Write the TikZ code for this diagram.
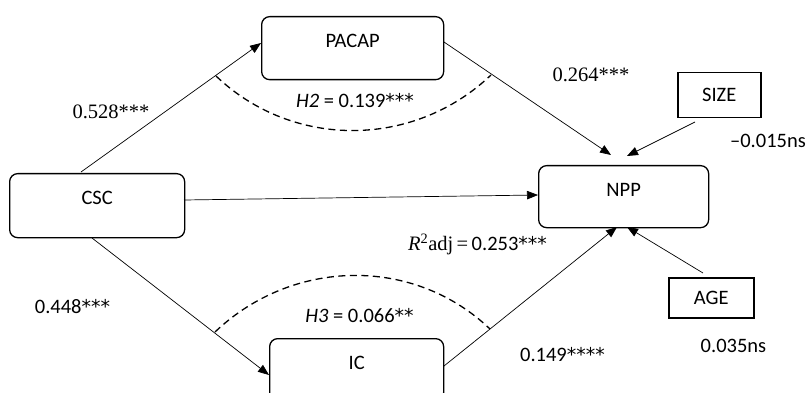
\documentclass[tikz,border=0pt]{standalone}
\usepackage{fontspec}
\setmainfont{Carlito}
\newfontfamily\serifface{Liberation Serif}
\newfontfamily\starface{DejaVu Sans}
\newcommand\stars[1]{{\starface\fontsize{19}{22}\selectfont #1}}
\usetikzlibrary{arrows.meta}
\begin{document}
\begin{tikzpicture}[x=1pt,y=-1pt,
  font=\fontsize{20.5}{24}\selectfont,
  rbox/.style={draw, rounded corners=8pt, line width=1.3pt, inner sep=0pt, anchor=north west, text height=31pt},
  sbox/.style={draw, line width=1.5pt, inner sep=0pt, anchor=north west},
  arr/.style={-{Triangle[length=11pt,width=8.5pt]}, line width=0.7pt},
  hyp/.style={line width=1.3pt, dash pattern=on 7pt off 4.5pt},
  lab/.style={inner sep=0pt, anchor=base}]
\useasboundingbox (0,0) rectangle (809,393);
\clip (0,0) rectangle (809,393);
% boxes
\node[rbox, minimum width=182pt, text depth=32pt] (pacap) at (261,16) {PACAP};
\node[rbox, minimum width=175pt, text depth=33pt] (csc) at (9,173) {CSC};
\node[rbox, minimum width=170pt, text depth=31pt] (npp) at (538,165) {NPP};
\node[rbox, minimum width=174pt, text depth=31pt] (ic) at (269,338) {IC};
\node[sbox, minimum width=83pt, minimum height=45pt] (size) at (677,72) {SIZE};
\node[sbox, minimum width=85pt, minimum height=40pt] (age) at (668,277) {AGE};
% arrow end points
\coordinate (cscT) at (81,172);
\coordinate (cscB) at (92,238);
\coordinate (cscE) at (184,200);
\coordinate (pacapW) at (261,43);
\coordinate (pacapE) at (444,42);
\coordinate (icW) at (269,375);
\coordinate (icE) at (444,366);
\coordinate (nppW) at (538,195);
\coordinate (nppT1) at (611,155);
\coordinate (nppT2) at (627,156);
\coordinate (nppB1) at (617,227);
\coordinate (nppB2) at (627,227);
\coordinate (sizeS) at (695,122);
\coordinate (ageN) at (703,273);
% connectors
\draw[arr] (cscT) -- (pacapW);
\draw[arr] (pacapE) -- (nppT1);
\draw[arr] (sizeS) -- (nppT2);
\draw[arr] (cscE) -- (nppW);
\draw[arr] (cscB) -- (icW);
\draw[arr] (icE) -- (nppB1);
\draw[arr] (ageN) -- (nppB2);
% hypothesis arcs
\coordinate (h2a) at (216,76);
\coordinate (h2b) at (491,75);
\coordinate (h3a) at (215,332);
\coordinate (h3b) at (490,329);
\draw[hyp] (h2a) .. controls (293,149.4) and (414,148.4) .. (h2b);
\draw[hyp] (h3a) .. controls (292,258.6) and (413,255.6) .. (h3b);
% labels
\node[lab] (l528) at (111,119) {\serifface 0.528***};
\node[lab] (lh2) at (355,107.5) {\textit{H2} = 0.139\stars{***}};
\node[lab] (l264) at (591,81.5) {\serifface 0.264***};
\node[lab] (l015) at (768,148) {–0.015ns};
\node[lab] (lr2) at (477.5,251) {{\serifface\textit{R}\textsuperscript{2}adj\,=\,}0.253\stars{***}};
\node[lab] (l448) at (72.5,313) {0.448\stars{***}};
\node[lab] (lh3) at (359.5,322.5) {\textit{H3} = 0.066\stars{**}};
\node[lab] (l149) at (562.5,361.5) {0.149\stars{****}};
\node[lab] (l035) at (733.5,352) {0.035ns};
\end{tikzpicture}
\end{document}
